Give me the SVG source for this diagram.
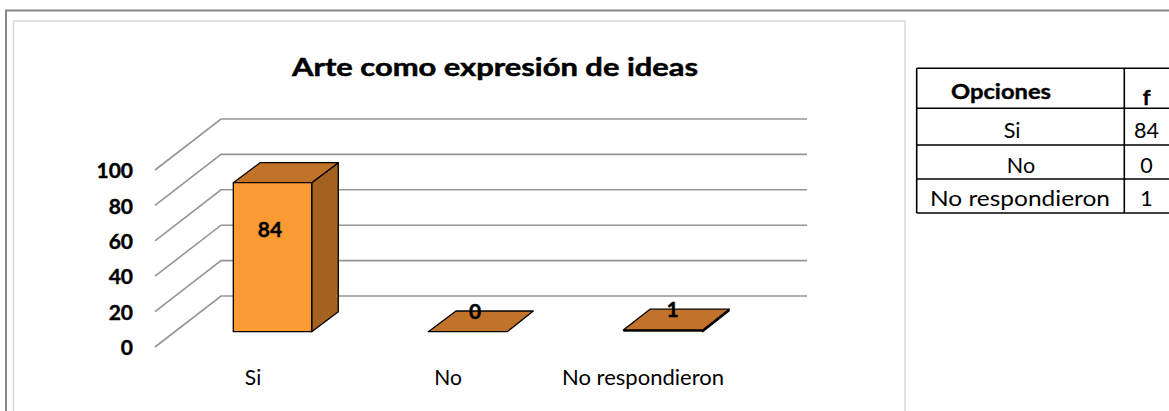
<svg xmlns="http://www.w3.org/2000/svg" width="1169" height="411" viewBox="0 0 1169 411">
<style>
.grid{stroke:#959595;stroke-width:1.6;fill:none}
.ax{font-family:Lato,"Liberation Sans",sans-serif;font-weight:700;font-size:21px;fill:#000;stroke:#000;stroke-width:0.4}
.cat{font-family:Lato,"Liberation Sans",sans-serif;font-size:21px;fill:#000}
.tb{font-family:Lato,"Liberation Sans",sans-serif;font-size:21.5px;fill:#000}
.bold{font-weight:700;stroke:#000;stroke-width:0.4}
.front{fill:#fa9b33;stroke:#000;stroke-width:1.3;stroke-linejoin:round}
.top{fill:#c17329;stroke:#000;stroke-width:1.3;stroke-linejoin:round}
.side{fill:#a3621f;stroke:#000;stroke-width:1.3;stroke-linejoin:round}
.tl{stroke:#000;stroke-width:1.6}
</style>
<rect width="1169" height="411" fill="#fff"/>
<path d="M6 411 V10.5 H1169" fill="none" stroke="#868686" stroke-width="2"/>
<path d="M13.5 411 V21 H905 V411" fill="none" stroke="#d9d9d9" stroke-width="1.5"/>
<text x="495" y="76" text-anchor="middle" font-family="Lato,'Liberation Sans',sans-serif" font-weight="700" font-size="24" stroke="#000" stroke-width="0.5" textLength="406" lengthAdjust="spacingAndGlyphs">Arte como expresión de ideas</text>
<g id="connectors">
<g class="grid">
<path d="M155 170 L221 119 H807"/>
<path d="M155 205.4 L221 154.4 H807"/>
<path d="M155 240.8 L221 189.8 H807"/>
<path d="M155 276.2 L221 225.2 H807"/>
<path d="M155 311.6 L221 260.6 H807"/>
<path d="M155 347 L221 296 H807"/>
</g>
</g>
<g id="axis">
<text class="ax" x="133" y="178.3" text-anchor="end">100</text>
<text class="ax" x="133" y="213.7" text-anchor="end">80</text>
<text class="ax" x="133" y="249" text-anchor="end">60</text>
<text class="ax" x="133" y="284.3" text-anchor="end">40</text>
<text class="ax" x="133" y="319.7" text-anchor="end">20</text>
<text class="ax" x="133" y="355" text-anchor="end">0</text>
</g>
<g id="bar-si">
<polygon class="side" points="311.7,182.7 338.3,162.7 338.3,311.7 311.7,331.7"/>
<polygon class="top" points="233.3,182.7 260,162.7 338.3,162.7 311.7,182.7"/>
<rect class="front" x="233.3" y="182.7" width="78.4" height="149"/>
<text class="ax" x="270" y="237.3" text-anchor="middle">84</text>
<text class="cat" x="253" y="385" text-anchor="middle">Si</text>
</g>
<g id="bar-no">
<polygon class="top" points="428.3,331.7 456,311 533.3,311 507.3,331.7"/>
<text class="ax" x="475" y="319" text-anchor="middle">0</text>
<text class="cat" x="448" y="385" text-anchor="middle">No</text>
</g>
<g id="bar-nr">
<polygon class="side" points="702.7,329.9 729,309.2 729,311 702.7,331.7"/>
<rect x="623.3" y="329.9" width="79.4" height="1.8" fill="#000"/>
<polygon class="top" points="623.3,329.9 650,309.2 729,309.2 702.7,329.9"/>
<text class="ax" x="672.7" y="316.7" text-anchor="middle">1</text>
<text class="cat" x="643" y="385" text-anchor="middle" textLength="162" lengthAdjust="spacingAndGlyphs">No respondieron</text>
</g>
<g id="table">
<path class="tl" d="M916.7 68.3 H1172 M916.7 108.3 H1172 M916.7 145 H1172 M916.7 179 H1172 M916.7 213 H1172 M916.7 68.3 V213 M1124.3 68.3 V213"/>
<text class="tb bold" x="1001" y="99" text-anchor="middle" textLength="100" lengthAdjust="spacingAndGlyphs">Opciones</text>
<text class="tb bold" x="1146.5" y="105" text-anchor="middle">f</text>
<text class="tb" x="1012" y="138.3" text-anchor="middle">Si</text>
<text class="tb" x="1146.5" y="138.3" text-anchor="middle">84</text>
<text class="tb" x="1021" y="173" text-anchor="middle">No</text>
<text class="tb" x="1146.5" y="173" text-anchor="middle">0</text>
<text class="tb" x="1020" y="206" text-anchor="middle" textLength="180" lengthAdjust="spacingAndGlyphs">No respondieron</text>
<text class="tb" x="1146.5" y="206" text-anchor="middle">1</text>
</g>
</svg>
